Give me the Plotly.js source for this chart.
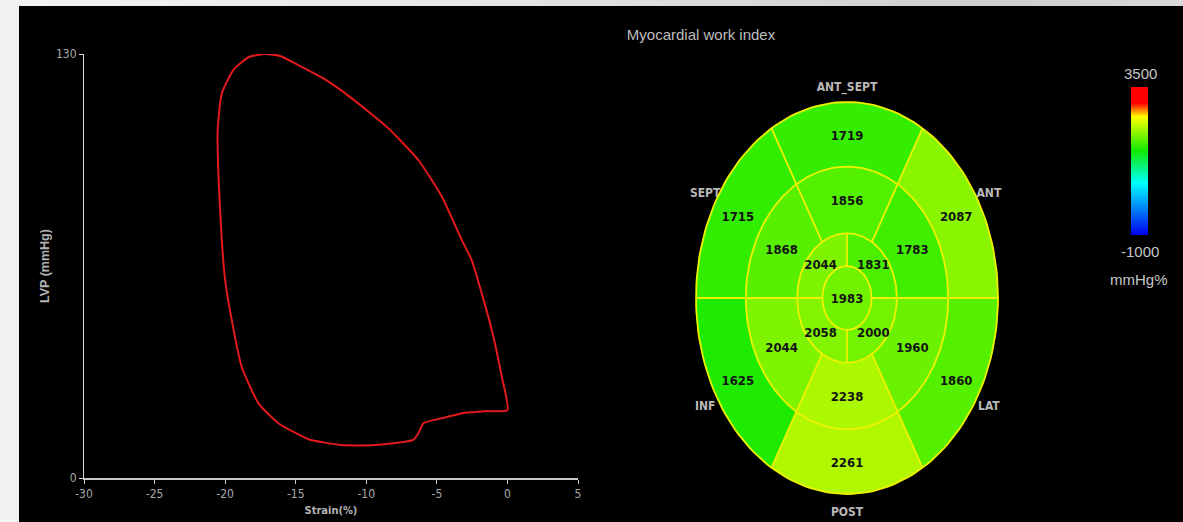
<!DOCTYPE html>
<html>
<head>
<meta charset="utf-8">
<script src="https://cdn.plot.ly/plotly-3.0.1.min.js"></script>
<style>
  html, body {
    margin: 0; padding: 0; width: 1183px; height: 522px; overflow: hidden;
    background: linear-gradient(90deg, #f3f3f3 0%, #e8e8e8 35%, #cdcdcd 85%, #d9d9d9 100%);
  }
  #chart { position: absolute; left: 19px; top: 6px; width: 1164px; height: 516px; }
</style>
</head>
<body>
<div id="chart"></div>
<script>
// ---- Pressure–strain loop: global longitudinal strain (%) vs LV pressure (mmHg)
const strain = [0.0, -0.40, -1.11, -1.82, -2.53, -3.24, -4.65, -6.31, -8.43, -11.03,
  -12.92, -14.81, -16.10, -17.17, -18.35, -19.41, -20.24, -20.53, -20.48, -20.24,
  -20.00, -19.53, -18.83, -17.64, -16.22, -14.10, -11.74, -9.37, -6.66, -6.31,
  -5.95, -4.65, -3.00, -1.58, 0.0];
const pressure = [20.8, 31.1, 45.4, 56.6, 66.8, 73.0, 86.3, 97.5, 107.2, 116.4,
  122.2, 126.6, 129.4, 130.0, 129.0, 125.1, 117.9, 106.7, 93.5, 73.0,
  60.7, 48.4, 34.1, 22.9, 16.8, 11.9, 10.1, 10.1, 11.7, 13.7,
  16.8, 18.3, 20.0, 20.5, 20.8];
const strainTicks = [-30, -25, -20, -15, -10, -5, 0, 5];
const pressureTicks = [0, 130];

// ---- Myocardial work index per segment (mmHg%)
const wallNames = ['ANT_SEPT', 'ANT', 'LAT', 'POST', 'INF', 'SEPT'];
const basalMWI  = [1719, 2087, 1860, 2261, 1625, 1715];
const midMWI    = [1856, 1783, 1960, 2238, 2044, 1868];
// apical quadrants: upper-right, upper-left, lower-left, lower-right
const apicalMWI = [1831, 2044, 2058, 2000];
const apexMWI   = 1983;

const mwiMin = -1000, mwiMax = 3500;
const colorbarUnit = 'mmHg%';

// ---- fonts
const NARROW = "'Liberation Sans Narrow', 'Arial Narrow', 'DejaVu Sans Condensed', Roboto, sans-serif";
const SANS = "'Liberation Sans', Arial, sans-serif";

// ---- page geometry
const W = 1164, H = 516, OX = 19, OY = 6;
const fx = p => (p - OX) / W;
const fy = p => 1 - (p - OY) / H;

// bull's-eye centre and radii (px)
const CX = 847, CY = 298, RX = 151, RY = 196;
const ringR = [0.163, 0.33, 0.67, 1.0];
const wallMid = [90, 30, -30, -90, -150, 150];
const apicalMid = [45, 135, 225, 315];
const TEXT_DROP = 2.5 / RY;   // small downward nudge for centred labels

const mwiScale = [
  [0.00, '#0000f0'], [0.35, '#00ffff'], [0.57, '#10ea00'],
  [0.80, '#ffff00'], [0.89, '#ff0000'], [1.00, '#ff0000']
];
function hexRgb(h) { return [1, 3, 5].map(i => parseInt(h.slice(i, i + 2), 16)); }
function mwiColor(v) {
  const t = Math.min(1, Math.max(0, (v - mwiMin) / (mwiMax - mwiMin)));
  for (let i = 1; i < mwiScale.length; i++) {
    if (t <= mwiScale[i][0]) {
      const [t0, c0] = mwiScale[i - 1], [t1, c1] = mwiScale[i];
      const f = (t - t0) / (t1 - t0);
      const a = hexRgb(c0), b = hexRgb(c1);
      return 'rgb(' + a.map((x, k) => Math.round(x + (b[k] - x) * f)).join(',') + ')';
    }
  }
  return mwiScale[mwiScale.length - 1][1];
}

const rad = d => d * Math.PI / 180;
function arc(r, a0, a1) {
  const n = Math.max(6, Math.ceil(Math.abs(a1 - a0) / 2));
  const xs = [], ys = [];
  for (let i = 0; i <= n; i++) {
    const a = rad(a0 + (a1 - a0) * i / n);
    xs.push(r * Math.cos(a)); ys.push(r * Math.sin(a));
  }
  return [xs, ys];
}
function sector(r0, r1, a0, a1) {
  const [ox, oy] = arc(r1, a0, a1);
  if (r0 <= 0) return [ox, oy];
  const [ix, iy] = arc(r0, a1, a0);
  return [ox.concat(ix, [ox[0]]), oy.concat(iy, [oy[0]])];
}
const polar = (r, a) => [r * Math.cos(rad(a)), r * Math.sin(rad(a))];

const traces = [];

// LV loop
traces.push({
  type: 'scatter', mode: 'lines', x: strain, y: pressure, xaxis: 'x', yaxis: 'y',
  line: { color: '#e3191c', width: 2, shape: 'spline', smoothing: 0.5 }, hoverinfo: 'skip'
});

// wall names (drawn first so the bull's-eye overlaps them)
const wallPos = wallMid.map(a => polar(1.085, a));
traces.push({
  type: 'scatter', mode: 'text', xaxis: 'x2', yaxis: 'y2',
  x: wallPos.map(p => p[0]), y: wallPos.map(p => p[1] - TEXT_DROP), text: wallNames,
  textfont: { family: NARROW, weight: 700, size: 12, color: '#b9b9b9' },
  hoverinfo: 'skip'
});

// segment fills
function addSegment(r0, r1, a0, a1, v) {
  const [xs, ys] = sector(r0, r1, a0, a1);
  const c = mwiColor(v);
  traces.push({
    type: 'scatter', mode: 'lines', x: xs, y: ys, xaxis: 'x2', yaxis: 'y2',
    fill: 'toself', fillcolor: c, line: { color: c, width: 0.5 }, hoverinfo: 'skip'
  });
}
basalMWI.forEach((v, i) => addSegment(ringR[2], ringR[3], wallMid[i] - 30, wallMid[i] + 30, v));
midMWI.forEach((v, i) => addSegment(ringR[1], ringR[2], wallMid[i] - 30, wallMid[i] + 30, v));
apicalMWI.forEach((v, i) => addSegment(ringR[0], ringR[1], apicalMid[i] - 45, apicalMid[i] + 45, v));
addSegment(0, ringR[0], 0, 360, apexMWI);

// segment borders
const bx = [], by = [];
ringR.forEach(r => { const [xs, ys] = arc(r, 0, 360); bx.push(...xs, null); by.push(...ys, null); });
function spoke(a, r0, r1) {
  const p = polar(r0, a), q = polar(r1, a);
  bx.push(p[0], q[0], null); by.push(p[1], q[1], null);
}
[0, 180].forEach(a => spoke(a, ringR[0], ringR[3]));
[60, 120, 240, 300].forEach(a => spoke(a, ringR[1], ringR[3]));
[90, 270].forEach(a => spoke(a, ringR[0], ringR[1]));
traces.push({
  type: 'scatter', mode: 'lines', x: bx, y: by, xaxis: 'x2', yaxis: 'y2',
  line: { color: '#eef200', width: 1.8 }, hoverinfo: 'skip'
});

// segment values + colour bar
const valX = [], valY = [], valV = [];
basalMWI.forEach((v, i) => { const p = polar(0.835, wallMid[i]); valX.push(p[0]); valY.push(p[1]); valV.push(v); });
midMWI.forEach((v, i) => { const p = polar(0.5, wallMid[i]); valX.push(p[0]); valY.push(p[1]); valV.push(v); });
apicalMWI.forEach((v, i) => { const p = polar(0.247, apicalMid[i]); valX.push(p[0]); valY.push(p[1]); valV.push(v); });
valX.push(0); valY.push(0); valV.push(apexMWI);
traces.push({
  type: 'scatter', mode: 'markers+text', xaxis: 'x2', yaxis: 'y2',
  x: valX, y: valY.map(y => y - TEXT_DROP * 0.8), text: valV.map(String), textposition: 'middle center',
  textfont: { family: NARROW, weight: 700, size: 13, color: '#141414' },
  marker: {
    size: 1, opacity: 0, color: valV, colorscale: mwiScale, cmin: mwiMin, cmax: mwiMax,
    showscale: true,
    colorbar: {
      thickness: 17, len: 148, lenmode: 'pixels',
      x: fx(1131), xanchor: 'left', y: fy(161), yanchor: 'middle',
      xpad: 0, ypad: 0, outlinewidth: 0, showticklabels: false, ticks: ''
    }
  },
  hoverinfo: 'skip'
});

const tickFont = { family: NARROW, size: 12, color: '#a8a8a8' };
const layout = {
  width: W, height: H, margin: { l: 0, r: 0, t: 0, b: 0 },
  paper_bgcolor: '#000', plot_bgcolor: '#000', showlegend: false, hovermode: false,
  title: {
    text: 'Myocardial work index', x: fx(701), xref: 'paper', xanchor: 'center',
    y: fy(35), yref: 'paper', yanchor: 'middle',
    font: { family: SANS, size: 15, color: '#bdbdbd' }
  },
  xaxis: {
    domain: [fx(84), fx(578)], range: [-30, 5], anchor: 'y',
    tickvals: strainTicks, ticktext: strainTicks.map(String), tickfont: tickFont,
    ticks: 'outside', ticklen: 4, tickcolor: '#c8c8c8', tickwidth: 1,
    showline: true, linecolor: '#c8c8c8', linewidth: 2,
    showgrid: false, zeroline: false,
    title: { text: 'Strain(%)', standoff: 6,
      font: { family: NARROW, weight: 700, size: 11, color: '#b3b3b3' } }
  },
  yaxis: {
    domain: [fy(478), fy(54)], range: [0, 130], anchor: 'x',
    tickvals: pressureTicks, ticktext: pressureTicks.map(String), tickfont: tickFont,
    ticks: 'outside', ticklen: 4, tickcolor: '#dcdcdc', tickwidth: 1,
    showline: true, linecolor: '#dcdcdc', linewidth: 1,
    showgrid: false, zeroline: false,
    title: { text: 'LVP (mmHg)', standoff: 3,
      font: { family: SANS, weight: 700, size: 12.5, color: '#b3b3b3' } }
  },
  xaxis2: {
    domain: [fx(655), fx(1045)], range: [(655 - CX) / RX, (1045 - CX) / RX],
    anchor: 'y2', visible: false, fixedrange: true
  },
  yaxis2: {
    domain: [fy(522), fy(66)], range: [-(522 - CY) / RY, (CY - 66) / RY],
    anchor: 'x2', visible: false, fixedrange: true
  },
  annotations: [
    { text: String(mwiMax), x: fx(1140), y: fy(73), xref: 'paper', yref: 'paper',
      xanchor: 'center', yanchor: 'middle', showarrow: false,
      font: { family: SANS, size: 15, color: '#c6c6c6' } },
    { text: String(mwiMin), x: fx(1140), y: fy(252), xref: 'paper', yref: 'paper',
      xanchor: 'center', yanchor: 'middle', showarrow: false,
      font: { family: SANS, size: 15, color: '#c6c6c6' } },
    { text: colorbarUnit, x: fx(1139), y: fy(279), xref: 'paper', yref: 'paper',
      xanchor: 'center', yanchor: 'middle', showarrow: false,
      font: { family: SANS, size: 15, color: '#c6c6c6' } }
  ]
};

Plotly.newPlot('chart', traces, layout, { staticPlot: true, displayModeBar: false });
</script>
</body>
</html>
